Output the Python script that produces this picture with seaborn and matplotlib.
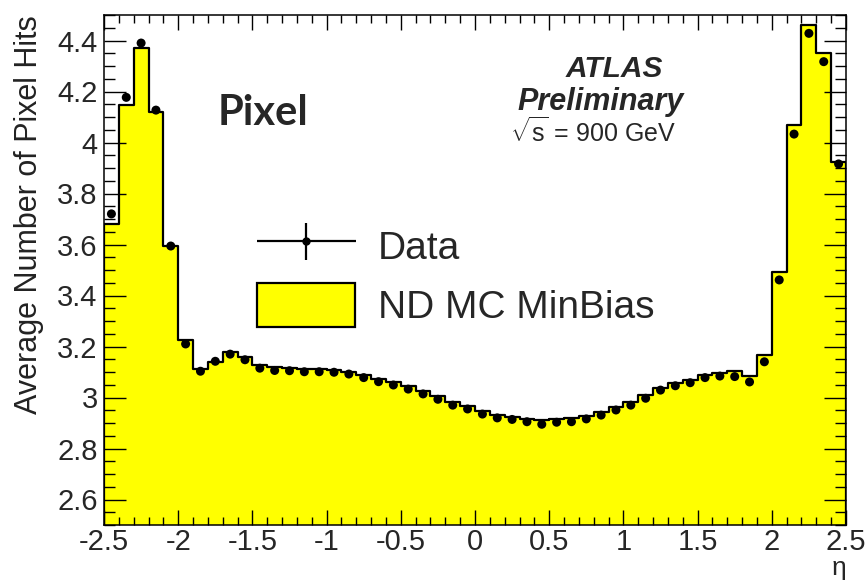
import numpy as np
import pandas as pd
import matplotlib
matplotlib.use("Agg")
import matplotlib.pyplot as plt
import seaborn as sns
from matplotlib import font_manager as fm
from matplotlib.patches import Patch
from matplotlib.container import ErrorbarContainer
from matplotlib.legend_handler import HandlerErrorbar
from matplotlib.ticker import MultipleLocator

# Pseudorapidity binning: 50 bins of width 0.1 over |eta| < 2.5
eta_edges = [round(v, 2) for v in np.linspace(-2.5, 2.5, 51)]

# Average number of pixel hits per track, collision data
data_hits = [
    3.720, 4.177, 4.390, 4.127, 3.594, 3.210, 3.103, 3.142, 3.170, 3.148,
    3.115, 3.106, 3.105, 3.101, 3.101, 3.099, 3.092, 3.078, 3.062, 3.049,
    3.033, 3.014, 2.993, 2.970, 2.955, 2.935, 2.920, 2.914, 2.905, 2.895,
    2.903, 2.905, 2.916, 2.931, 2.951, 2.970, 2.997, 3.029, 3.046, 3.058,
    3.078, 3.084, 3.082, 3.061, 3.140, 3.461, 4.033, 4.428, 4.317, 3.916,
]

# Non-diffractive minimum-bias simulation
mc_hits = [
    3.680, 4.147, 4.370, 4.120, 3.594, 3.225, 3.112, 3.140, 3.178, 3.160,
    3.128, 3.118, 3.114, 3.112, 3.110, 3.106, 3.100, 3.088, 3.073, 3.060,
    3.044, 3.025, 3.004, 2.982, 2.965, 2.946, 2.932, 2.924, 2.917, 2.912,
    2.914, 2.918, 2.928, 2.942, 2.962, 2.982, 3.008, 3.038, 3.056, 3.070,
    3.088, 3.098, 3.102, 3.085, 3.165, 3.493, 4.069, 4.461, 4.352, 3.925,
]

x_ticks = [-2.5, -2.0, -1.5, -1.0, -0.5, 0.0, 0.5, 1.0, 1.5, 2.0, 2.5]
x_tick_labels = ["-2.5", "-2", "-1.5", "-1", "-0.5", "0", "0.5", "1", "1.5", "2", "2.5"]
y_ticks = [2.6, 2.8, 3.0, 3.2, 3.4, 3.6, 3.8, 4.0, 4.2, 4.4]
y_tick_labels = ["2.6", "2.8", "3", "3.2", "3.4", "3.6", "3.8", "4", "4.2", "4.4"]

sns.set_style("ticks")
plt.rcParams["font.family"] = ["Liberation Sans", "DejaVu Sans"]
plt.rcParams["mathtext.fontset"] = "custom"
plt.rcParams["mathtext.rm"] = "Liberation Sans"
plt.rcParams["mathtext.it"] = "Liberation Sans:italic"

available = {f.name for f in fm.fontManager.ttflist}
if "Liberation Sans Narrow" in available:
    ylab_family, ylab_size = ["Liberation Sans Narrow", "DejaVu Sans"], 27
else:
    ylab_family, ylab_size = ["Liberation Sans", "DejaVu Sans"], 22

YELLOW = "#FFFF00"

centers = [(a + b) / 2 for a, b in zip(eta_edges[:-1], eta_edges[1:])]
df = pd.DataFrame({"eta": centers, "data": data_hits, "mc": mc_hits})

W, H = 867, 587
fig = plt.figure(figsize=(W / 100, H / 100), dpi=100)
ax = fig.add_axes([104 / W, 1 - 525 / H, 742 / W, 510 / H])

# Simulation as a filled step histogram
sns.histplot(data=df, x="eta", weights="mc", bins=eta_edges, element="step",
             fill=True, color=YELLOW, alpha=1, edgecolor="black",
             linewidth=1.6, ax=ax, zorder=1)

# Data as black points
sns.scatterplot(data=df, x="eta", y="data", color="black", s=42,
                edgecolor="none", ax=ax, zorder=3)

ax.set_xlim(-2.5, 2.5)
ax.set_ylim(2.5, 4.5)
ax.set_axisbelow(False)

ax.set_xticks(x_ticks)
ax.set_xticklabels(x_tick_labels)
ax.set_yticks(y_ticks)
ax.set_yticklabels(y_tick_labels)
ax.xaxis.set_minor_locator(MultipleLocator(0.1))
ax.yaxis.set_minor_locator(MultipleLocator(0.05))
ax.tick_params(axis="both", which="both", direction="in", top=True, right=True,
               color="black")
ax.tick_params(axis="x", which="major", length=11, width=1, pad=2, labelsize=21)
ax.tick_params(axis="x", which="minor", length=5.5, width=1)
ax.tick_params(axis="y", which="major", length=16, width=1, pad=4.5, labelsize=21)
ax.tick_params(axis="y", which="minor", length=8, width=1)
for sp in ax.spines.values():
    sp.set_visible(True)
    sp.set_linewidth(1.1)
    sp.set_color("black")

ax.set_ylabel("Average Number of Pixel Hits", loc="top", fontsize=ylab_size,
              family=ylab_family, color="#222222")
ax.yaxis.set_label_coords(-0.081, 1.0)
ax.set_xlabel("η", loc="right", fontsize=19)
ax.xaxis.set_label_coords(1.0, -0.06)

# Legend: data marker with error cross, simulation as filled box
data_handle = ax.errorbar([np.nan], [np.nan], xerr=[0.1], yerr=[0.1], fmt="o",
                          color="black", markersize=5, elinewidth=1.6, capsize=0)
mc_handle = Patch(facecolor=YELLOW, edgecolor="black", linewidth=1.6)
ax.legend([data_handle, mc_handle], ["Data", "ND MC MinBias"],
          handler_map={ErrorbarContainer: HandlerErrorbar(xerr_size=1.27, yerr_size=0.48)},
          loc="upper left", bbox_to_anchor=(257 / W, 1 - 224 / H),
          bbox_transform=fig.transFigure, frameon=False, fontsize=28,
          handlelength=2.53, handleheight=1.35, handletextpad=0.57,
          labelspacing=0.4, borderpad=0, borderaxespad=0)

fig.text(218 / W, 1 - 125 / H, "Pixel", family=["Lato", "DejaVu Sans"],
         weight="bold", fontsize=30, va="baseline")
fig.text(566 / W, 1 - 77 / H, "ATLAS", weight="bold", style="italic",
         fontsize=21.5, va="baseline")
fig.text(517 / W, 1 - 110 / H, "Preliminary", weight="bold", style="italic",
         fontsize=22, va="baseline")
fig.text(510 / W, 1 - 142 / H, r"$\sqrt{\mathrm{s}}$ = 900 GeV", fontsize=18,
         va="baseline")

fig.savefig("out.png", dpi=100)
